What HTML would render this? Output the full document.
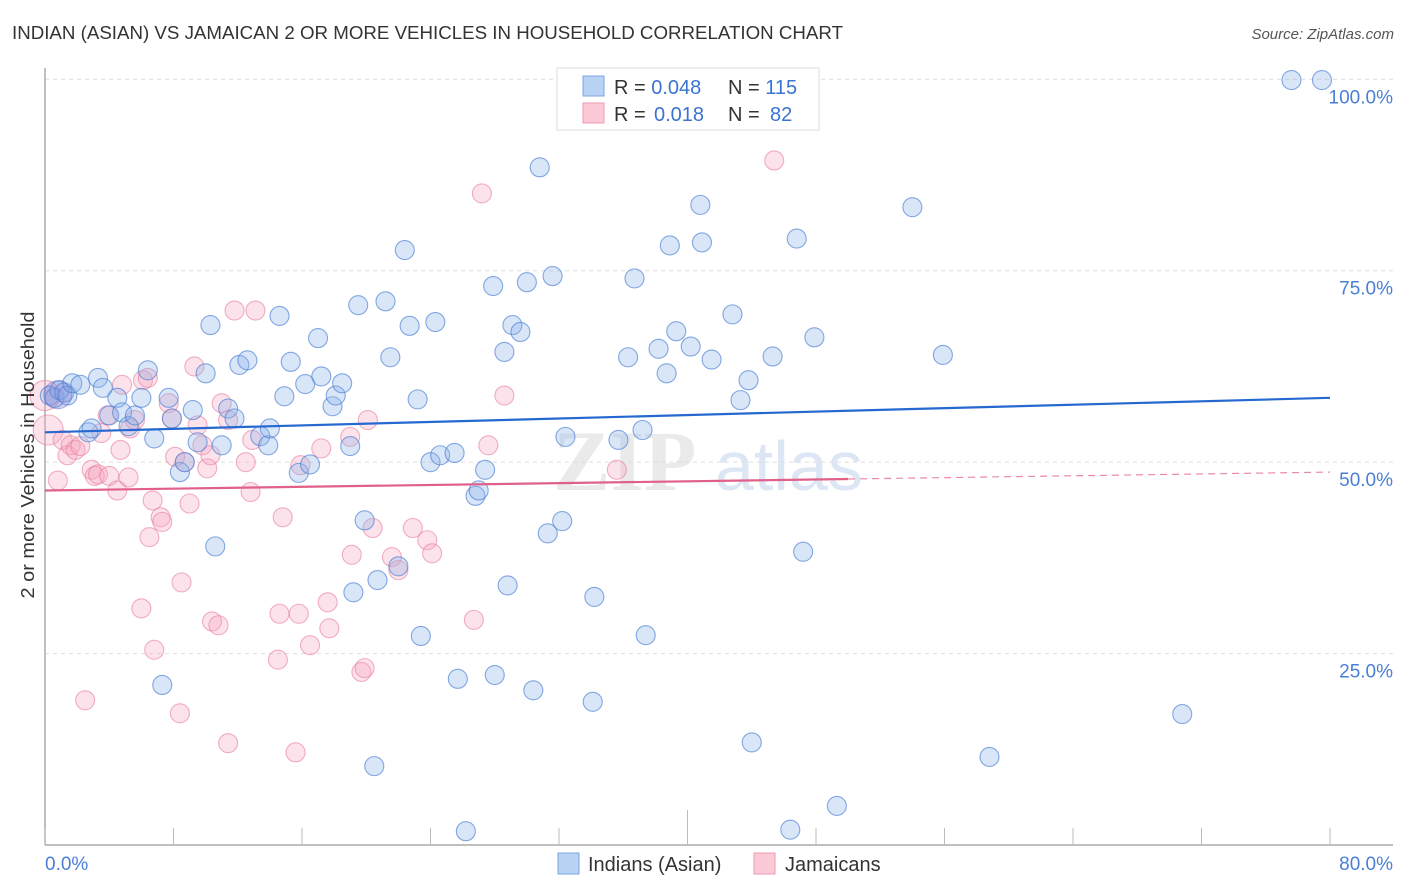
<!DOCTYPE html>
<html><head><meta charset="utf-8"><style>
body{margin:0;background:#fff;font-family:"Liberation Sans",sans-serif;}
svg{display:block}
</style></head><body>
<svg id="chart" width="1406" height="892" xmlns="http://www.w3.org/2000/svg">
<text x="12" y="39" font-size="18" fill="#333" textLength="831" lengthAdjust="spacingAndGlyphs">INDIAN (ASIAN) VS JAMAICAN 2 OR MORE VEHICLES IN HOUSEHOLD CORRELATION CHART</text>
<text x="1394" y="39" font-size="15" fill="#555" font-style="italic" text-anchor="end">Source: ZipAtlas.com</text>
<g><text x="553" y="490" font-size="86" fill="#ddd" font-family="Liberation Serif" font-weight="bold" opacity="0.6">ZIP</text><text x="715" y="490" font-size="70" fill="#c7d7ee" opacity="0.6">atlas</text></g>
<g id="grid"></g>
<g id="axes"></g>
<g id="pinkpts"></g>
<g id="bluepts"></g>
<g id="lines"></g>
<text transform="translate(34,455) rotate(-90)" font-size="18" fill="#333" text-anchor="middle" textLength="287" lengthAdjust="spacingAndGlyphs">2 or more Vehicles in Household</text>
<text x="45" y="870" font-size="19" fill="#4a7fd6">0.0%</text>
<text x="1393" y="870" font-size="19" fill="#4a7fd6" text-anchor="end">80.0%</text>
<g>
<rect x="557" y="68" width="262" height="62" fill="#fff" stroke="#ddd"/>
<rect x="583" y="76" width="21" height="20" fill="#b9d3f5" stroke="#7aa6e0"/>
<rect x="583" y="103" width="21" height="20" fill="#fcc9d7" stroke="#eb9ab2"/>
<text x="614" y="94" font-size="20" fill="#333">R = <tspan fill="#3a73d0">0.048</tspan><tspan x="728">N = </tspan><tspan fill="#3a73d0">115</tspan></text>
<text x="614" y="121" font-size="20" fill="#333">R = <tspan x="654" fill="#3a73d0">0.018</tspan><tspan x="728">N = </tspan><tspan x="770" fill="#3a73d0">82</tspan></text>
</g>
<g>
<rect x="558" y="853" width="21" height="21" fill="#b9d3f5" stroke="#7aa6e0"/>
<text x="588" y="871" font-size="20" fill="#333">Indians (Asian)</text>
<rect x="754" y="853" width="21" height="21" fill="#fcc9d7" stroke="#eb9ab2"/>
<text x="785" y="871" font-size="20" fill="#333">Jamaicans</text>
</g>
</svg>
<script>
const yTicks=[25,50,75,100];
const yTickLabels=["25.0%","50.0%","75.0%","100.0%"];
const xTicks=[0,8,16,24,32,40,48,56,64,72,80];
const blueX=[0.3,0.6,0.9,1.2,1.4,1.7,2.2,2.7,2.9,3.3,3.6,4.0,4.5,4.8,5.2,5.6,6.0,6.4,6.8,7.3,7.7,7.9,8.4,8.7,9.2,9.5,10.0,10.3,10.6,11.0,11.4,11.8,12.1,12.6,13.4,13.9,14.0,14.6,14.9,15.3,15.8,16.2,16.5,17.0,17.2,17.9,18.1,18.5,19.0,19.2,19.5,19.9,20.5,20.7,21.2,21.5,22.0,22.4,22.7,23.2,23.4,24.0,24.3,24.6,25.5,25.7,26.2,26.8,27.0,27.4,27.9,28.0,28.6,28.8,29.1,29.6,30.0,30.4,30.8,31.3,31.6,32.2,32.4,34.1,34.2,35.7,36.3,36.7,37.4,37.2,38.2,38.7,38.9,39.3,40.2,40.8,40.9,41.5,42.8,43.3,43.8,44.0,45.3,46.4,46.8,47.2,47.9,49.3,54.0,55.9,58.8,70.8,77.6,79.5,46.4];
const blueY=[58.7,58.4,59.4,59.1,58.7,60.3,60.1,53.9,54.4,61.0,59.7,56.1,58.4,56.5,54.7,56.1,58.4,62.0,53.1,20.9,58.4,55.7,48.7,50.0,56.8,52.6,61.6,67.9,39.0,52.2,57.0,55.7,62.7,63.3,53.4,52.2,54.4,69.1,58.6,63.1,48.6,60.2,49.7,66.2,61.2,57.3,58.7,60.3,52.1,33.0,70.5,42.4,10.3,34.6,71.0,63.7,36.4,77.7,67.8,58.2,27.3,50.0,68.3,50.9,51.2,21.7,1.8,45.6,46.3,49.0,73.0,22.2,64.4,33.9,67.9,67.0,73.5,20.2,88.5,40.7,74.3,42.3,53.3,18.7,32.4,52.9,63.7,74.0,27.4,54.2,64.8,61.6,78.3,67.1,65.1,83.6,78.7,63.4,69.3,58.1,60.7,13.4,63.8,2.0,79.2,38.3,66.3,5.1,83.3,64.0,11.5,17.1,99.9,99.9,95.3];
const pinkX=[0,0.2,0.8,1.1,1.4,1.6,1.9,2.2,2.5,2.9,3.1,3.3,3.5,3.9,4.0,4.5,4.7,4.8,5.2,5.3,5.6,6.0,6.1,6.4,6.5,6.7,6.8,7.2,7.3,7.7,7.9,8.1,8.4,8.5,8.7,9.0,9.3,9.5,9.8,10.1,10.3,10.4,10.8,11.0,11.4,11.4,11.8,12.5,12.8,12.9,13.1,14.5,14.6,14.8,15.6,15.8,15.9,16.5,17.2,17.6,17.7,19.0,19.1,19.7,19.9,20.1,20.4,21.6,22.0,22.9,23.8,24.1,26.7,27.2,27.6,28.6,35.6,45.4];
const pinkY=[58.7,54.2,47.6,52.9,50.9,52.2,51.6,52.1,18.9,49.0,48.2,48.4,53.8,56.1,48.2,46.3,51.6,60.1,48.0,54.4,55.5,30.9,60.7,61.0,40.2,45.0,25.5,42.8,42.2,57.7,55.7,50.7,17.2,34.3,50.0,44.6,62.5,54.8,52.2,49.2,50.9,29.2,28.7,57.7,55.5,13.3,69.8,50.0,46.1,52.9,69.8,24.2,30.2,42.8,12.1,30.2,49.6,26.1,51.8,31.7,28.3,53.3,37.9,22.6,23.1,55.5,41.4,37.6,35.9,41.4,39.8,38.1,29.4,85.1,52.2,58.7,49.0,89.4];
const blueTrend=[53.9,58.4];
const pinkTrend=[46.3,48.7];
const NS="http://www.w3.org/2000/svg";
const X0=45,X1=1330,Y0=845,YTOP=79.3;
const sx=v=>X0+(v/80)*(X1-X0);
const sy=v=>Y0-(v/100)*(Y0-YTOP);
function mk(tag,attrs,parent){const e=document.createElementNS(NS,tag);for(const k in attrs)e.setAttribute(k,attrs[k]);parent.appendChild(e);return e;}
const grid=document.getElementById('grid'),axes=document.getElementById('axes');
yTicks.forEach((t,i)=>{
 const l=mk('line',{x1:X0,x2:1393,y1:sy(t),y2:sy(t),stroke:'#ddd','stroke-dasharray':'4,4'},grid);
 
 
 const tx=mk('text',{x:1393,y:sy(t)+24,'font-size':19,fill:'#4a7fd6','text-anchor':'end'},grid);
 tx.textContent=yTickLabels[i];
 
 
});
const ya=mk('line',{x1:X0,x2:X0,y1:68,y2:Y0,stroke:'#aaa','stroke-width':1.5},axes);


const xa=mk('line',{x1:X0,x2:1393,y1:Y0,y2:Y0,stroke:'#aaa','stroke-width':1.5},axes);


xTicks.forEach(t=>{
 const tk=mk('line',{x1:sx(t),x2:sx(t),y1:t===40?810:828,y2:Y0,stroke:'#bbb'},axes);
 
 
});
function pts(xs,ys,g,fill,stroke,name,big){
 xs.forEach((x,i)=>{
  const r=(big&&i<big)?15:9.5;
  const c=mk('circle',{cx:sx(x),cy:sy(ys[i]),r:r,fill:fill,stroke:stroke,'stroke-width':1.1},g);
  
  
 });
}
pts(pinkX,pinkY,document.getElementById('pinkpts'),'rgba(246,168,192,0.33)','rgba(232,125,157,0.6)','jamaicans-point',2);
pts(blueX,blueY,document.getElementById('bluepts'),'rgba(140,180,235,0.33)','rgba(70,125,210,0.65)','indians-point',0);
mk('circle',{cx:sx(0.8),cy:sy(58.8),r:14,fill:'rgba(120,120,210,0.3)',stroke:'rgba(90,110,200,0.5)'},document.getElementById('bluepts'));
const lg=document.getElementById('lines');
const bl=mk('line',{x1:sx(0),y1:sy(blueTrend[0]),x2:sx(80),y2:sy(blueTrend[1]),stroke:'#2468d0','stroke-width':2.2},lg);


const pm=pinkTrend[0]+(pinkTrend[1]-pinkTrend[0])*0.625;
const pl=mk('line',{x1:sx(0),y1:sy(pinkTrend[0]),x2:sx(50),y2:sy(pm),stroke:'#e0608a','stroke-width':2.2},lg);


const pd=mk('line',{x1:sx(50),y1:sy(pm),x2:sx(80),y2:sy(pinkTrend[1]),stroke:'#e88aa6','stroke-width':1.2,'stroke-dasharray':'7,5'},lg);


</script>
</body></html>
